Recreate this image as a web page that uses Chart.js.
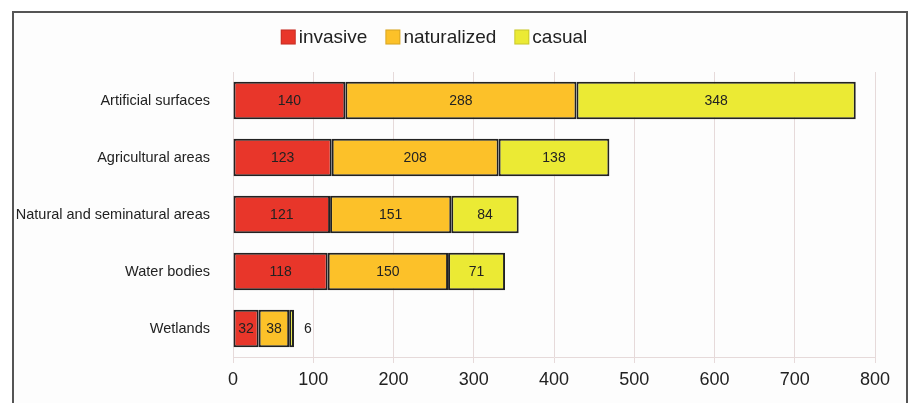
<!DOCTYPE html>
<html>
<head>
<meta charset="utf-8">
<script src="https://cdn.jsdelivr.net/npm/chart.js@4.4.1/dist/chart.umd.min.js"></script>
<style>
  html, body { margin: 0; padding: 0; background: #fff; }
  #frame { position: absolute; left: 12px; top: 11px; width: 892px; height: 420px;
           border: 2px solid #555; background: #fdfdfd; }
  #wrap { position: absolute; left: 0; top: 0; width: 910px; height: 403px; }
</style>
</head>
<body>
<div id="frame"></div>
<div id="wrap"><canvas id="chart" width="910" height="403"></canvas></div>
<script>
var categories = ['Artificial surfaces', 'Agricultural areas', 'Natural and seminatural areas', 'Water bodies', 'Wetlands'];
var invasive = [140, 123, 121, 118, 32];
var naturalized = [288, 208, 151, 150, 38];
var casual = [348, 138, 84, 71, 6];
var xTicks = [0, 100, 200, 300, 400, 500, 600, 700, 800];

var FONT = '"Liberation Sans", Arial, sans-serif';

// numbers inside the segments, or just right of a segment too thin to hold one
var valueLabels = {
    id: 'valueLabels',
    afterDatasetsDraw: function(chart) {
        var ctx = chart.ctx;
        ctx.save();
        ctx.font = '14px ' + FONT;
        ctx.fillStyle = '#222';
        ctx.textBaseline = 'middle';
        ctx.textAlign = 'center';
        chart.data.datasets.forEach(function(ds, i) {
            var meta = chart.getDatasetMeta(i);
            meta.data.forEach(function(bar, j) {
                var txt = String(ds.data[j]);
                var w = Math.abs(bar.x - bar.base);
                var tw = ctx.measureText(txt).width;
                if (w > tw + 4) {
                    ctx.fillText(txt, (bar.x + bar.base) / 2, bar.y + 1);
                } else {
                    ctx.fillText(txt, bar.x + 14, bar.y + 1);
                }
            });
        });
        ctx.restore();
    }
};

// legend drawn by hand: boxes sit tight against their text
var topLegend = {
    id: 'topLegend',
    afterDraw: function(chart) {
        var ctx = chart.ctx;
        var box = 15, gap = 3, space = 18, cx = 434, cy = 37;
        ctx.save();
        ctx.font = '19px ' + FONT;
        ctx.textBaseline = 'middle';
        ctx.textAlign = 'left';
        var items = chart.data.datasets.map(function(ds) {
            return { label: ds.label, color: ds.backgroundColor, w: ctx.measureText(ds.label).width };
        });
        var total = 0;
        items.forEach(function(it, i) { total += box + gap + it.w + (i ? space : 0); });
        var x = cx - total / 2;
        items.forEach(function(it) {
            ctx.fillStyle = it.color;
            ctx.fillRect(x, cy - box / 2, box, box);
            ctx.strokeStyle = 'rgba(0,0,0,0.15)';
            ctx.lineWidth = 1;
            ctx.strokeRect(x + 0.5, cy - box / 2 + 0.5, box - 1, box - 1);
            ctx.fillStyle = '#222';
            ctx.fillText(it.label, x + box + gap, cy + 1);
            x += box + gap + it.w + space;
        });
        ctx.restore();
    }
};

function series(label, values, color) {
    return {
        label: label,
        data: values,
        backgroundColor: color,
        borderColor: '#222',
        borderWidth: 2,
        borderSkipped: false,
        categoryPercentage: 1,
        barPercentage: 0.66
    };
}

new Chart(document.getElementById('chart').getContext('2d'), {
    type: 'bar',
    data: {
        labels: categories,
        datasets: [
            series('invasive', invasive, '#e8362a'),
            series('naturalized', naturalized, '#fcc129'),
            series('casual', casual, '#ebea34')
        ]
    },
    plugins: [valueLabels, topLegend],
    options: {
        indexAxis: 'y',
        responsive: false,
        animation: false,
        layout: { padding: { top: 72, right: 35, left: 0, bottom: 0 } },
        plugins: {
            tooltip: { enabled: false },
            legend: { display: false }
        },
        scales: {
            x: {
                stacked: true,
                min: 0,
                max: 800,
                afterBuildTicks: function(scale) {
                    scale.ticks = xTicks.map(function(v) { return { value: v }; });
                },
                afterFit: function(scale) { scale.height = 46; },
                grid: { color: '#e6dada', lineWidth: 1, tickLength: 6 },
                border: { color: '#e6dada' },
                ticks: { font: { family: FONT, size: 18 }, color: '#222', padding: 6 }
            },
            y: {
                stacked: true,
                afterFit: function(scale) { scale.width = 233; },
                grid: { display: false },
                border: { color: '#e6dada' },
                ticks: { font: { family: FONT, size: 14.5 }, color: '#222', padding: 15 }
            }
        }
    }
});
</script>
</body>
</html>
